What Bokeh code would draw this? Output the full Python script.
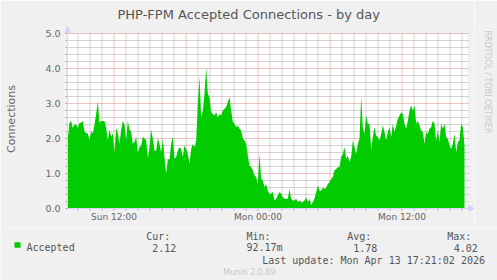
import math
import pandas as pd
from bokeh.plotting import figure
from bokeh.layouts import row, column
from bokeh.models import (Range1d, FixedTicker, DatetimeTickFormatter, PrintfTickFormatter,
                          Title, Arrow, NormalHead, ColumnDataSource)
from bokeh.core.properties import value
from bokeh.embed import file_html
from bokeh.resources import INLINE

# ---------------- data ----------------
TITLE = "PHP-FPM Accepted Connections - by day"
Y_LABEL = "Connections"
SERIES = "Accepted"
SERIES_START = "2026-04-12 08:09:10"
STEP_SECONDS = 500
VIEW_START = "2026-04-12 08:07:30"

accepted = [
    2.0, 2.45, 2.5, 2.3, 2.4, 2.4, 2.3, 2.45, 2.45, 2.5,
    2.2, 2.15, 2.15, 1.95, 2.2, 2.15, 2.4, 2.7, 3.05, 2.45,
    2.5, 2.5, 2.5, 2.3, 1.95, 2.25, 2.05, 2.15, 1.6, 2.3,
    2.15, 1.85, 2.25, 2.5, 2.4, 1.95, 2.5, 2.25, 2.2, 1.85,
    1.9, 2.05, 1.6, 1.75, 1.8, 2.05, 2.0, 1.95, 1.45, 1.75,
    2.25, 2.0, 1.65, 1.65, 2.0, 1.85, 1.6, 2.0, 1.45, 1.0,
    1.4, 1.4,
    1.85, 2.04, 1.42, 1.47, 1.66, 1.75, 1.7, 1.47, 1.8, 1.7,
    1.56, 1.28, 1.7, 1.85, 1.75, 1.94, 3.0, 3.75, 2.6, 2.8,
    3.28, 4.02, 3.28, 3.18, 2.75, 2.7, 2.66, 2.75, 2.6, 2.7,
    2.66, 2.8, 2.85, 2.9, 3.04, 3.18, 2.8, 2.47, 2.42, 2.32,
    2.37, 2.28, 2.23, 2.0, 1.94, 1.85, 1.51, 1.23, 1.18, 1.09,
    0.94, 0.9, 0.7, 1.56, 0.85, 0.8, 0.61, 0.7, 0.51, 0.42,
    0.42, 0.47, 0.23, 0.28, 0.37, 0.47, 0.42, 0.32, 0.28, 0.28,
    0.28, 0.56, 0.28, 0.23, 0.23, 0.28, 0.18, 0.23, 0.18, 0.18,
    0.23, 0.32, 0.18, 0.28, 0.09, 0.18, 0.28, 0.47, 0.66, 0.51,
    0.51, 0.6, 0.56, 0.6, 0.7, 0.75, 0.85, 0.9, 1.09, 1.13,
    1.18, 1.18, 1.47, 1.56, 1.75, 1.42, 1.51, 1.32, 1.47, 1.94,
    1.75, 1.56, 1.85, 1.99, 3.2, 2.3, 2.14,
    2.66, 2.42, 2.42, 1.7, 2.04, 2.32, 2.08, 2.04, 1.94, 2.13,
    2.37, 2.18, 1.94, 2.18, 2.32, 2.04, 2.42, 2.18, 2.37, 2.56,
    2.66, 2.75, 2.7, 2.42, 2.28, 2.51, 2.8, 2.94, 2.8, 2.94,
    2.42, 2.51, 2.37, 2.23, 2.18, 1.85, 2.18, 2.13, 2.28, 2.32,
    2.51, 2.42, 1.94, 2.23, 1.9, 2.42, 2.28, 2.42, 2.04, 1.99,
    1.8, 1.7, 1.85, 2.13, 1.61, 1.9, 1.94, 2.42, 2.32, 1.8,
]

x_tick_times = ["2026-04-12 12:00", "2026-04-13 00:00", "2026-04-13 12:00"]
y_ticks = [0, 1, 2, 3, 4, 5]
stat_heads = ["Cur:", "Min:", "Avg:", "Max:"]
stat_values = ["2.12", "92.17m", "1.78", "4.02"]
LAST_UPDATE = "Last update: Mon Apr 13 17:21:02 2026"
FOOTER = "Munin 2.0.69"
WATERMARK = "RRDTOOL / TOBI OETIKER"

# ---------------- styling / geometry ----------------
BG = "#F0F0F0"
FONT_COLOR = "#666666"
TEXT_DARK = "#555555"
GREEN = "#00CC00"
AXIS_COLOR = "#CFD6F8"
GRID_MINOR = "#A8A8A8"
GRID_MAJOR = "#E08585"
MONO = "DejaVu Sans Mono"
SANS = "DejaVu Sans"

PX_MS = 300_000          # one pixel = 5 minutes
PX_V = 1.0 / 35.0        # one pixel = 1/35 connection
CANVAS_W, CANVAS_H = 400, 175

def ms(s):
    return pd.Timestamp(s).value // 10**6

t_view0 = ms(VIEW_START)
t_view1 = t_view0 + CANVAS_W * PX_MS
t0 = ms(SERIES_START)
times = [t0 + i * STEP_SECONDS * 1000 for i in range(len(accepted))]
src = ColumnDataSource(dict(t=times, v=accepted))
y_top = y_ticks[-1]

hours = [ms(t) for t in pd.date_range("2026-04-12 09:00", "2026-04-13 17:00", freq="1h")]
six_hours = [ms(t) for t in pd.date_range("2026-04-12 12:00", "2026-04-13 12:00", freq="6h")]
minor_hours = [h for h in hours if h not in six_hours]
fifths = [round(0.2 * i, 1) for i in range(26)]
minor_fifths = [f for f in fifths if f not in y_ticks]

MAIN_W, MAIN_H = 474, 228
main = figure(width=MAIN_W, height=MAIN_H, x_axis_type="datetime", output_backend="svg",
              toolbar_location=None,
              x_range=Range1d(t_view0 - 3 * PX_MS, t_view0 + 407 * PX_MS),
              y_range=Range1d(-3 * PX_V, y_top + 7 * PX_V),
              min_border_left=64, min_border_right=0, min_border_top=26,
              min_border_bottom=17, background_fill_color=BG, border_fill_color=BG,
              outline_line_color=None)
for g in main.xgrid + main.ygrid:
    g.visible = False

main.add_layout(Title(text=TITLE, align="left", offset=53, standoff=9,
                      text_font=SANS, text_font_size="13px", text_font_style="normal",
                      text_color=TEXT_DARK), "above")

# white canvas
main.quad(left=t_view0, right=t_view1, bottom=0, top=y_top, fill_color="white",
          line_color=None)
# grid (dotted, minor grey / major red)
main.segment(x0=minor_hours, y0=0, x1=minor_hours, y1=y_top, line_color=GRID_MINOR,
             line_dash="1 1")
main.segment(x0=t_view0, y0=minor_fifths, x1=t_view1 + 2 * PX_MS, y1=minor_fifths,
             line_color=GRID_MINOR, line_dash="1 1")
main.segment(x0=six_hours, y0=0, x1=six_hours, y1=y_top, line_color=GRID_MAJOR,
             line_dash="1 1")
main.segment(x0=t_view0, y0=y_ticks, x1=t_view1 + 2 * PX_MS, y1=y_ticks,
             line_color=GRID_MAJOR, line_dash="1 1")

# data
main.varea(x="t", y1=0, y2="v", source=src, fill_color=GREEN)

# small tick marks outside the axes
main.segment(x0=minor_hours, y0=0, x1=minor_hours, y1=-2 * PX_V, line_color=GRID_MINOR)
main.segment(x0=six_hours, y0=0, x1=six_hours, y1=-2 * PX_V, line_color=GRID_MAJOR)
main.segment(x0=t_view0 - 2 * PX_MS, y0=minor_fifths, x1=t_view0, y1=minor_fifths,
             line_color=GRID_MINOR)
main.segment(x0=t_view0 - 2 * PX_MS, y0=y_ticks, x1=t_view0, y1=y_ticks,
             line_color=GRID_MAJOR)

# axes lines with arrowheads
main.add_layout(Arrow(x_start=t_view0, y_start=0, x_end=t_view0 + 407 * PX_MS, y_end=0,
                      line_color=AXIS_COLOR, line_width=1,
                      end=NormalHead(size=6, fill_color=AXIS_COLOR, line_color=AXIS_COLOR)))
main.add_layout(Arrow(x_start=t_view0, y_start=0, x_end=t_view0, y_end=y_top + 7 * PX_V,
                      line_color=AXIS_COLOR, line_width=1,
                      end=NormalHead(size=6, fill_color=AXIS_COLOR, line_color=AXIS_COLOR)))

fmt = "%a %H:%M"
main.xaxis.ticker = FixedTicker(ticks=[ms(t) for t in x_tick_times])
main.xaxis.formatter = DatetimeTickFormatter(hours=fmt, days=fmt, hourmin=fmt, minutes=fmt,
                                             minsec=fmt, seconds=fmt, months=fmt, years=fmt)
main.yaxis.ticker = FixedTicker(ticks=y_ticks)
main.yaxis.formatter = PrintfTickFormatter(format="%.1f")
for ax in (main.xaxis[0], main.yaxis[0]):
    ax.axis_line_color = None
    ax.major_tick_line_color = None
    ax.minor_tick_line_color = None
    ax.major_tick_out = 0
    ax.major_tick_in = 0
    ax.minor_tick_out = 0
    ax.minor_tick_in = 0
    ax.major_label_text_color = FONT_COLOR
    ax.major_label_text_font = SANS
main.xaxis.major_label_text_font_size = "9px"
main.xaxis.major_label_standoff = 0
main.yaxis.major_label_text_font_size = "9.5px"
main.yaxis.major_label_standoff = 4
main.yaxis.axis_label = Y_LABEL
main.yaxis.axis_label_text_font = SANS
main.yaxis.axis_label_text_font_size = "11px"
main.yaxis.axis_label_text_font_style = "normal"
main.yaxis.axis_label_text_color = FONT_COLOR
main.yaxis.axis_label_standoff = 24

# right strip with the vertical watermark
STRIP_W = 497 - MAIN_W
strip = figure(width=STRIP_W, height=MAIN_H, output_backend="svg", toolbar_location=None,
               x_range=Range1d(0, STRIP_W), y_range=Range1d(MAIN_H, 0),
               x_axis_location=None, y_axis_location=None, min_border=0,
               background_fill_color=BG, border_fill_color=BG, outline_line_color=None)
strip.grid.visible = False
strip.text(x=[12.7], y=[5], text=[WATERMARK], angle=-math.pi / 2, text_align="left",
           text_baseline="middle", text_font=value(SANS), text_font_size="8px",
           text_color="#C8C8C8")

# legend / footer figure
LEG_H = 280 - MAIN_H
leg = figure(width=497, height=LEG_H, output_backend="svg", toolbar_location=None,
             x_range=Range1d(0, 497), y_range=Range1d(LEG_H, 0),
             x_axis_location=None, y_axis_location=None, min_border=0,
             background_fill_color=BG, border_fill_color=BG, outline_line_color=None)
leg.grid.visible = False
leg.text(x=[145.7, 246, 346.7, 446.7], y=[8] * 4, text=stat_heads, text_font=value(MONO),
         text_font_size="10px", text_color=TEXT_DARK, text_baseline="alphabetic")
leg.text(x=[26], y=[19.3], text=[SERIES], text_font=value(MONO),
         text_font_size="10px", text_color=TEXT_DARK, text_baseline="alphabetic")
leg.text(x=[151.7, 246, 352.7, 453.3], y=[19.3] * 4, text=stat_values,
         text_font=value(MONO), text_font_size="10px", text_color=TEXT_DARK,
         text_baseline="alphabetic")
leg.quad(left=[14], right=[20], top=[13.7], bottom=[19.3], fill_color=GREEN, line_color=None)
leg.text(x=[261.7], y=[31.5], text=[LAST_UPDATE], text_font=value(MONO),
         text_font_size="10px", text_color=TEXT_DARK, text_baseline="alphabetic")
leg.text(x=[249], y=[44], text=[FOOTER], text_font=value(SANS), text_font_size="8px",
         text_color="#C8C8C8", text_align="center", text_baseline="alphabetic")

layout = column(row(main, strip, spacing=0), leg, spacing=0)
open("out.html", "w").write(file_html(layout, INLINE))
